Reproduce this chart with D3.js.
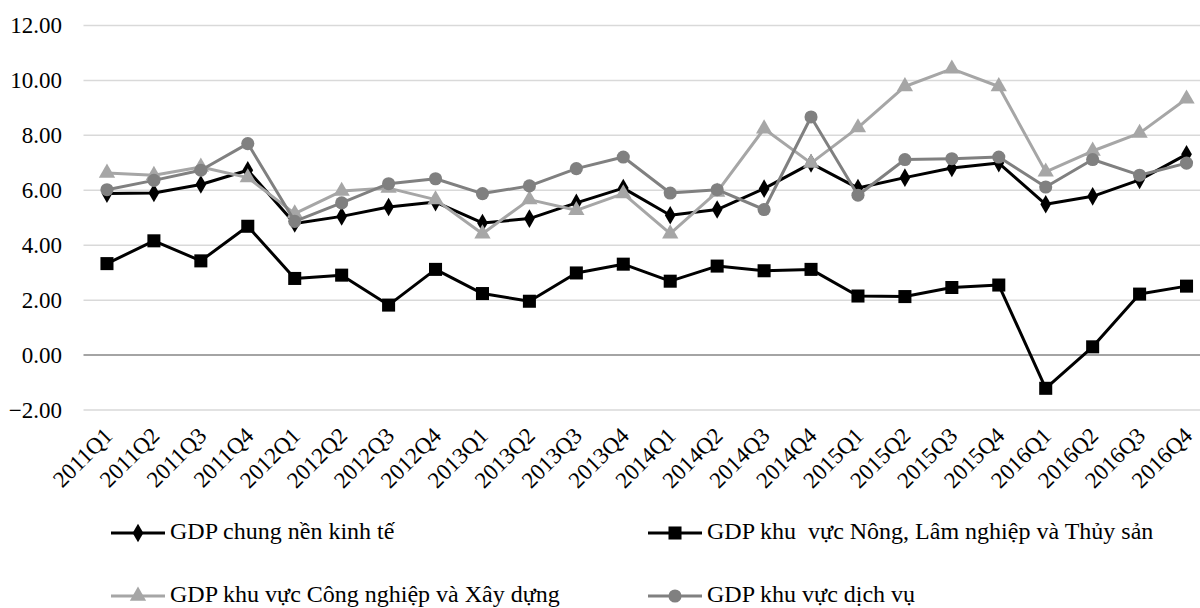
<!DOCTYPE html>
<html>
<head>
<meta charset="utf-8">
<script src="https://cdn.jsdelivr.net/npm/d3@7"></script>
<style>
  html, body { margin: 0; padding: 0; background: #fff; }
  svg text { font-family: "Liberation Serif", "Times New Roman", serif; fill: #000; }
</style>
</head>
<body>
<svg id="chart" width="1200" height="608"></svg>
<script>
// Quarterly GDP growth (%) by sector, 2011–2016
const categories = [
  "2011Q1","2011Q2","2011Q3","2011Q4","2012Q1","2012Q2","2012Q3","2012Q4",
  "2013Q1","2013Q2","2013Q3","2013Q4","2014Q1","2014Q2","2014Q3","2014Q4",
  "2015Q1","2015Q2","2015Q3","2015Q4","2016Q1","2016Q2","2016Q3","2016Q4"
];
const gdpChung = [5.88,5.90,6.21,6.73,4.79,5.05,5.39,5.57,4.81,4.97,5.54,6.08,
                  5.09,5.30,6.06,6.98,6.08,6.46,6.81,6.99,5.49,5.78,6.38,7.31];
const gdpNongLam = [3.33,4.16,3.43,4.69,2.79,2.91,1.82,3.12,2.24,1.96,2.99,3.31,
                    2.69,3.24,3.07,3.12,2.15,2.13,2.46,2.55,-1.21,0.30,2.22,2.51];
const gdpCongNghiep = [6.63,6.55,6.85,6.46,5.15,5.97,6.08,5.66,4.42,5.66,5.27,5.88,
                       4.42,5.94,8.24,6.99,8.28,9.78,10.42,9.78,6.67,7.43,8.08,9.33];
const gdpDichVu = [6.02,6.36,6.73,7.70,4.87,5.54,6.24,6.42,5.88,6.16,6.79,7.21,
                   5.90,6.02,5.30,8.67,5.82,7.12,7.15,7.21,6.12,7.12,6.55,6.99];
const yTicks = [-2,0,2,4,6,8,10,12];

const seriesNames = [
  "GDP chung nền kinh tế",
  "GDP khu  vực Nông, Lâm nghiệp và Thủy sản",
  "GDP khu vực Công nghiệp và Xây dựng",
  "GDP khu vực dịch vụ"
];

const series = [
  { name: seriesNames[0], values: gdpChung,      color: "#000000", symbol: d3.symbolDiamond,  size: 100 },
  { name: seriesNames[1], values: gdpNongLam,    color: "#000000", symbol: d3.symbolSquare,   size: 170 },
  { name: seriesNames[2], values: gdpCongNghiep, color: "#a6a6a6", symbol: d3.symbolTriangle, size: 115 },
  { name: seriesNames[3], values: gdpDichVu,     color: "#808080", symbol: d3.symbolCircle,   size: 135 }
];

const svg = d3.select("#chart");
const plotLeft = 83.5, plotRight = 1210, plotTop = 25.5, plotBottom = 410;

const x = d3.scalePoint().domain(categories).range([plotLeft, plotRight]).padding(0.5);
const y = d3.scaleLinear().domain([-2, 12]).range([plotBottom, plotTop]);

// horizontal gridlines, the zero line darker
svg.append("g").selectAll("line").data(yTicks).join("line")
  .attr("x1", plotLeft).attr("x2", plotRight)
  .attr("y1", d => y(d)).attr("y2", d => y(d))
  .attr("stroke", d => d === 0 ? "#868686" : "#d9d9d9")
  .attr("stroke-width", 1.5);

// y axis labels
const yAxis = d3.axisLeft(y).tickValues(yTicks).tickFormat(d3.format(".2f")).tickSize(0).tickPadding(0);
const gy = svg.append("g").attr("transform", "translate(62,0)").call(yAxis);
gy.select(".domain").remove();
gy.selectAll("text").attr("font-size", 23).attr("fill", "#000");

// x axis labels, rotated
const gx = svg.append("g");
gx.selectAll("text").data(categories).join("text")
  .attr("transform", d => `translate(${x(d) + 7},${437}) rotate(-45)`)
  .attr("text-anchor", "end")
  .attr("font-size", 23)
  .text(d => d);

// series lines and markers
const line = d3.line().x((d, i) => x(categories[i])).y(d => y(d));
series.forEach(s => {
  const g = svg.append("g");
  g.append("path").datum(s.values)
    .attr("d", line)
    .attr("fill", "none")
    .attr("stroke", s.color)
    .attr("stroke-width", 3)
    .attr("stroke-linejoin", "round");
  g.selectAll("path.marker").data(s.values).join("path")
    .attr("class", "marker")
    .attr("d", d3.symbol().type(s.symbol).size(s.size))
    .attr("transform", (d, i) => `translate(${x(categories[i])},${y(d)})`)
    .attr("fill", s.color);
});

// legend: two columns, two rows
const legendPos = [
  { lx: 111, ly: 533 },
  { lx: 648, ly: 533 },
  { lx: 111, ly: 596 },
  { lx: 648, ly: 596 }
];
series.forEach((s, i) => {
  const p = legendPos[i];
  const g = svg.append("g").attr("transform", `translate(${p.lx},${p.ly})`);
  g.append("line").attr("x1", 0).attr("x2", 54).attr("y1", 0).attr("y2", 0)
    .attr("stroke", s.color).attr("stroke-width", 3);
  g.append("path").attr("d", d3.symbol().type(s.symbol).size(s.size))
    .attr("transform", "translate(27,0)").attr("fill", s.color);
  g.append("text").attr("x", 59).attr("y", 0).attr("dy", "0.26em")
    .attr("font-size", 24)
    .style("white-space", "pre")
    .text(s.name);
});
</script>
</body>
</html>
